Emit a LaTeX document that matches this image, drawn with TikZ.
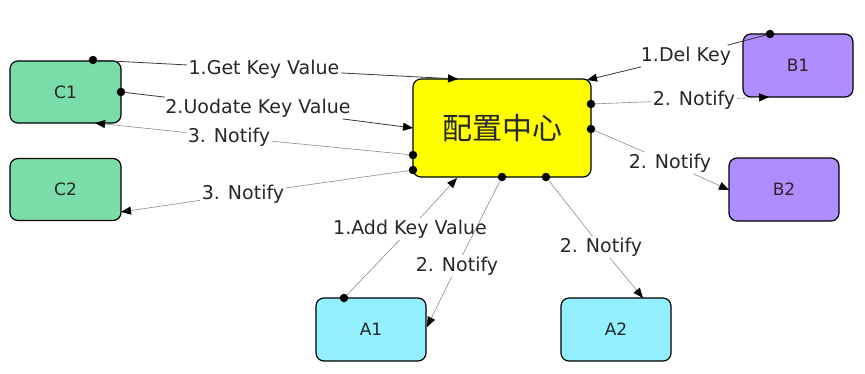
\documentclass[tikz,border=0pt]{standalone}
\usepackage{fontspec}
\setmainfont{DejaVu Sans}
\newfontfamily\cjkfont{Noto Sans CJK SC}
\usetikzlibrary{arrows.meta}
\definecolor{cgreen}{RGB}{122,221,168}
\definecolor{cpurple}{RGB}{176,140,255}
\definecolor{ccyan}{RGB}{146,240,255}
\definecolor{cyell}{RGB}{255,255,0}
\definecolor{darkline}{RGB}{55,55,55}
\definecolor{lightline}{RGB}{140,140,140}
\begin{document}
\begin{tikzpicture}[x=1pt,y=-1pt,
  box/.style={draw=black, line width=1.2pt, rounded corners=8pt, inner sep=0pt,
    text=black!85, font=\fontsize{17}{17}\selectfont},
  cbox/.style={box, fill=cgreen, minimum width=111pt, minimum height=62pt},
  bbox/.style={box, fill=cpurple, minimum width=110pt, minimum height=63pt},
  abox/.style={box, fill=ccyan, minimum width=110pt, minimum height=63pt},
  dot/.style={circle, fill=black, inner sep=0pt, minimum size=8.5pt},
  lab/.style={inner sep=1.5pt, text=black!85, font=\fontsize{19}{19}\selectfont},
  dk/.style={draw=darkline, line width=0.8pt, -{Triangle[length=10pt,width=8pt,color=black]}},
  lt/.style={draw=lightline, line width=0.6pt, -{Triangle[length=10pt,width=8pt,color=black]}}
]
\useasboundingbox (0,0) rectangle (865,373);
% boxes
\node[cbox] (c1) at (65.5,92) {C1};
\node[cbox] (c2) at (65.5,189.5) {C2};
\node[box, fill=cyell, minimum width=178pt, minimum height=98pt] (hub) at (502,128)
  {\cjkfont\fontsize{30}{30}\selectfont 配置中心};
\node[bbox] (b1) at (798,65.5) {B1};
\node[bbox] (b2) at (784,189.5) {B2};
\node[abox] (a1) at (371,329.5) {A1};
\node[abox] (a2) at (616,329.5) {A2};
% dots
\node[dot] (d1) at (93,60) {};
\node[dot] (d2) at (121,92) {};
\node[dot] (d3) at (413,155) {};
\node[dot] (d4) at (413,170) {};
\node[dot] (d5) at (770,34) {};
\node[dot] (d6) at (591,104) {};
\node[dot] (d7) at (591,129) {};
\node[dot] (d8) at (344,298) {};
\node[dot] (d9) at (502,177) {};
\node[dot] (d10) at (546,177) {};
% arrow ends
\coordinate (e1) at (458,79);
\coordinate (e2) at (413,128);
\coordinate (e3) at (95,123);
\coordinate (e4) at (121,212);
\coordinate (e5) at (587,80);
\coordinate (e6) at (769,97);
\coordinate (e7) at (729,190);
\coordinate (e8) at (457,178);
\coordinate (e9) at (427,327);
\coordinate (e10) at (643,298);
% labels
\node[lab] (l1) at (264,69) {1.Get Key Value};
\node[lab] (l2) at (258,108) {2.Uodate Key Value};
\node[lab] (l3) at (229,137) {3. Notify};
\node[lab] (l4) at (243,194) {3. Notify};
\node[lab] (l5) at (686,56) {1.Del Key};
\node[lab] (l6) at (694,100) {2. Notify};
\node[lab] (l7) at (670,163) {2. Notify};
\node[lab] (l8) at (410,229) {1.Add Key Value};
\node[lab] (l9) at (457,266) {2. Notify};
\node[lab] (l10) at (601,247) {2. Notify};
% connectors
\draw[dk] (d1) -- (l1) -- (e1);
\draw[dk] (d2) -- (l2) -- (e2);
\draw[lt] (d3) -- (l3) -- (e3);
\draw[lt] (d4) -- (l4) -- (e4);
\draw[dk] (d5) -- (l5) -- (e5);
\draw[lt] (d6) -- (l6) -- (e6);
\draw[lt] (d7) -- (l7) -- (e7);
\draw[lt] (d8) -- (l8) -- (e8);
\draw[lt] (d9) -- (l9) -- (e9);
\draw[lt] (d10) -- (l10) -- (e10);
\end{tikzpicture}
\end{document}
